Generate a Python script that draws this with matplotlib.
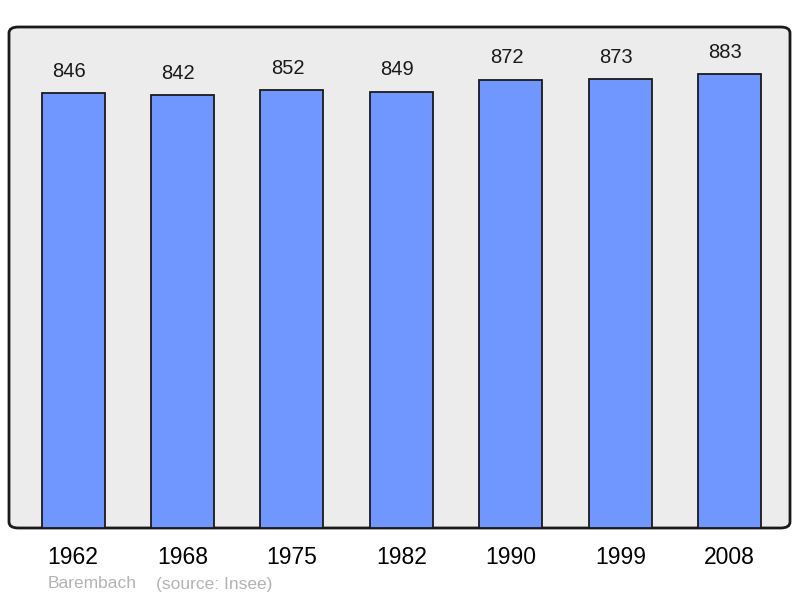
import matplotlib
matplotlib.use("Agg")
import matplotlib.pyplot as plt
from matplotlib.patches import FancyBboxPatch

years = ["1962", "1968", "1975", "1982", "1990", "1999", "2008"]
population = [846, 842, 852, 849, 872, 873, 883]
town = "Barembach"
source = "(source: Insee)"

plt.rcParams["font.family"] = ["Liberation Sans", "DejaVu Sans"]

fig = plt.figure(figsize=(8, 5.98), dpi=100)
ax = fig.add_axes([9 / 800, 70 / 598, 781 / 800, 501 / 598])
ax.set_xlim(-0.585, 6.55)
ax.set_ylim(0, 975)
ax.axis("off")

# rounded frame
frame = FancyBboxPatch((0, 0), 1, 1, boxstyle="round,pad=0,rounding_size=0.012",
                       transform=ax.transAxes, facecolor="#ececec",
                       edgecolor="#1a1a1a", lw=2, zorder=0, clip_on=False)
ax.add_patch(frame)

x = list(range(len(years)))
ax.bar(x, population, width=0.575, color="#7096ff", edgecolor="#1a1a1a", lw=1.3, zorder=2)
for xi, v in zip(x, population):
    ax.annotate(str(v), (xi - 0.04, v), xytext=(0, 9), textcoords="offset points",
                ha="center", va="bottom", fontsize=14.5, color="#1a1a1a")
for xi, y in zip(x, years):
    ax.annotate(y, (xi, 0), xytext=(0, -21), textcoords="offset points",
                ha="center", va="center", fontsize=16.5, color="black", annotation_clip=False)

fig.text(48 / 800, 1 - 584 / 598, town, color="#b3b3b3", fontsize=12.5, va="center", ha="left")
fig.text(156 / 800, 1 - 584 / 598, source, color="#b3b3b3", fontsize=12.5, va="center", ha="left")

fig.savefig("out.png", dpi=100)
